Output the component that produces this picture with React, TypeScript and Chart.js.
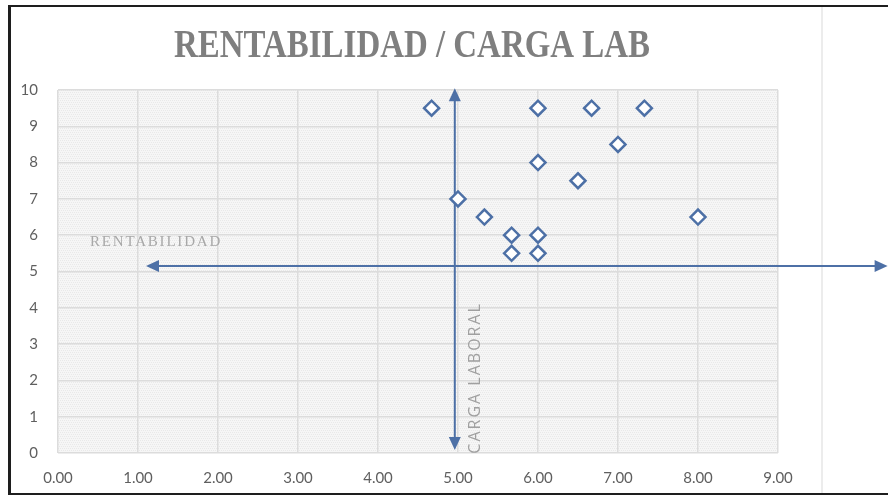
import React, { useEffect, useRef } from "react";
import { Chart, registerables } from "chart.js";

Chart.register(...registerables);

// ---- data ----
const TITLE = "RENTABILIDAD / CARGA LAB";
const cargaLaboral = [4.67, 6.0, 6.67, 7.33, 7.0, 6.0, 6.5, 5.0, 5.33, 8.0, 5.67, 6.0, 5.67, 6.0];
const rentabilidad = [9.5, 9.5, 9.5, 9.5, 8.5, 8.0, 7.5, 7.0, 6.5, 6.5, 6.0, 6.0, 5.5, 5.5];
const xTicks = [0, 1, 2, 3, 4, 5, 6, 7, 8, 9];
const yTicks = [0, 1, 2, 3, 4, 5, 6, 7, 8, 9, 10];
// axis arrows (in data units): [start, end]
const hArrowX = [1.1, 10.37];
const hArrowY = [5.15, 5.15];
const vArrowX = [4.96, 4.96];
const vArrowY = [0.08, 10.05];
// in-plot labels
const labelTexts = ["RENTABILIDAD", "CARGA LABORAL"];
const labelX = [0.4, 5.22];
const labelY = [5.81, 2.07];

const BLUE = "#4d70a6";

function makePattern(ctx: CanvasRenderingContext2D) {
  const c = document.createElement("canvas");
  c.width = 4;
  c.height = 4;
  const p = c.getContext("2d")!;
  p.fillStyle = "#f6f6f6";
  p.fillRect(0, 0, 4, 4);
  p.fillStyle = "#e9e9e9";
  p.fillRect(0, 0, 1, 1);
  p.fillRect(2, 0, 1, 1);
  p.fillRect(1, 2, 1, 1);
  p.fillRect(3, 2, 1, 1);
  return ctx.createPattern(c, "repeat");
}

function drawArrow(ctx: CanvasRenderingContext2D, x1: number, y1: number, x2: number, y2: number) {
  const ang = Math.atan2(y2 - y1, x2 - x1);
  const L = 13;
  const W = 6;
  ctx.save();
  ctx.strokeStyle = BLUE;
  ctx.fillStyle = BLUE;
  ctx.lineWidth = 2;
  ctx.beginPath();
  ctx.moveTo(x1 + Math.cos(ang) * (L - 2), y1 + Math.sin(ang) * (L - 2));
  ctx.lineTo(x2 - Math.cos(ang) * (L - 2), y2 - Math.sin(ang) * (L - 2));
  ctx.stroke();
  const head = (tx: number, ty: number, a: number) => {
    ctx.beginPath();
    ctx.moveTo(tx, ty);
    ctx.lineTo(tx - Math.cos(a) * L - Math.sin(a) * W, ty - Math.sin(a) * L + Math.cos(a) * W);
    ctx.lineTo(tx - Math.cos(a) * L + Math.sin(a) * W, ty - Math.sin(a) * L - Math.cos(a) * W);
    ctx.closePath();
    ctx.fill();
  };
  head(x2, y2, ang);
  head(x1, y1, ang + Math.PI);
  ctx.restore();
}

const decorPlugin = {
  id: "decor",
  beforeDraw(chart: any) {
    const { ctx, chartArea: a } = chart;
    ctx.save();
    ctx.fillStyle = makePattern(ctx) || "#f0f0f0";
    ctx.fillRect(a.left, a.top, a.right - a.left, a.bottom - a.top);
    ctx.restore();
    // title
    ctx.save();
    ctx.font = "bold 40px 'Liberation Serif'";
    ctx.fillStyle = "#7f7f7f";
    ctx.textBaseline = "alphabetic";
    ctx.textAlign = "left";
    const w = ctx.measureText(TITLE).width;
    const target = 476;
    const sx = target / w;
    ctx.translate(412 - target / 2, 57);
    ctx.scale(sx, 1);
    ctx.fillText(TITLE, 0, 0);
    ctx.restore();
  },
  beforeDatasetsDraw(chart: any) {
    const { ctx } = chart;
    const xs = chart.scales.x;
    const ys = chart.scales.y;
    drawArrow(
      ctx,
      xs.getPixelForValue(hArrowX[0]),
      ys.getPixelForValue(hArrowY[0]),
      xs.getPixelForValue(hArrowX[1]),
      ys.getPixelForValue(hArrowY[1])
    );
    drawArrow(
      ctx,
      xs.getPixelForValue(vArrowX[0]),
      ys.getPixelForValue(vArrowY[0]),
      xs.getPixelForValue(vArrowX[1]),
      ys.getPixelForValue(vArrowY[1])
    );
    // RENTABILIDAD
    ctx.save();
    ctx.font = "15px 'Liberation Serif'";
    (ctx as any).letterSpacing = "1.8px";
    ctx.fillStyle = "#a8a8a8";
    ctx.textBaseline = "middle";
    ctx.textAlign = "left";
    ctx.fillText(labelTexts[0], xs.getPixelForValue(labelX[0]), ys.getPixelForValue(labelY[0]));
    ctx.restore();
    // CARGA LABORAL
    ctx.save();
    ctx.font = "16px 'Open Sans'";
    (ctx as any).letterSpacing = "2px";
    ctx.fillStyle = "#a0a0a0";
    ctx.textBaseline = "middle";
    ctx.textAlign = "center";
    ctx.translate(xs.getPixelForValue(labelX[1]), ys.getPixelForValue(labelY[1]));
    ctx.rotate(-Math.PI / 2);
    ctx.fillText(labelTexts[1], 0, 0);
    ctx.restore();
  },
};

export default function App() {
  const ref = useRef<HTMLCanvasElement | null>(null);
  useEffect(() => {
    if (!ref.current) return;
    const chart = new Chart(ref.current, {
      type: "scatter",
      data: {
        datasets: [
          {
            label: "Rentabilidad / Carga laboral",
            data: cargaLaboral.map((x, i) => ({ x, y: rentabilidad[i] })),
            pointStyle: "rectRot",
            pointRadius: 7.5,
            pointHoverRadius: 7.5,
            pointBorderWidth: 2.5,
            borderColor: BLUE,
            backgroundColor: "#ffffff",
          },
        ],
      },
      options: {
        responsive: false,
        animation: false,
        devicePixelRatio: 1,
        layout: { padding: { left: 10, right: 110, top: 90, bottom: 15 } },
        plugins: { legend: { display: false }, tooltip: { enabled: false }, title: { display: false } },
        scales: {
          x: {
            type: "linear",
            min: 0,
            max: 9,
            afterBuildTicks: (s: any) => {
              s.ticks = xTicks.map((v) => ({ value: v }));
            },
            afterFit: (s: any) => {
              s.height = 30;
            },
            ticks: {
              callback: (v: any) => Number(v).toFixed(2),
              padding: 16,
              maxRotation: 0,
              autoSkip: false,
              color: "#5f5f5f",
              font: { family: "Lato", size: 15 },
            },
            grid: { color: "#dcdcdc", lineWidth: 1.5, drawTicks: false },
            border: { display: false },
          },
          y: {
            type: "linear",
            min: 0,
            max: 10,
            afterBuildTicks: (s: any) => {
              s.ticks = yTicks.map((v) => ({ value: v }));
            },
            afterFit: (s: any) => {
              s.width = 48;
            },
            ticks: {
              padding: 20,
              autoSkip: false,
              color: "#5f5f5f",
              font: { family: "Lato", size: 15 },
            },
            grid: { color: "#dcdcdc", lineWidth: 1.5, drawTicks: false },
            border: { display: false },
          },
        },
      },
      plugins: [decorPlugin],
    });
    return () => chart.destroy();
  }, []);

  return (
    <div style={{ position: "fixed", left: 0, top: 0, width: 888, height: 498, background: "#ffffff", overflow: "hidden" }}>
      <div style={{ position: "absolute", left: 821, top: 7, width: 2, height: 486, background: "#ececec" }} />
      <canvas ref={ref} width={888} height={498} style={{ position: "absolute", left: 0, top: 0, width: 888, height: 498 }} />
      <div style={{ position: "absolute", left: 8, top: 5, width: 3, height: 490, background: "#1e1e1e" }} />
      <div style={{ position: "absolute", left: 8, top: 5, width: 880, height: 2, background: "#1e1e1e" }} />
      <div style={{ position: "absolute", left: 8, top: 493, width: 880, height: 2, background: "#1e1e1e" }} />
    </div>
  );
}
